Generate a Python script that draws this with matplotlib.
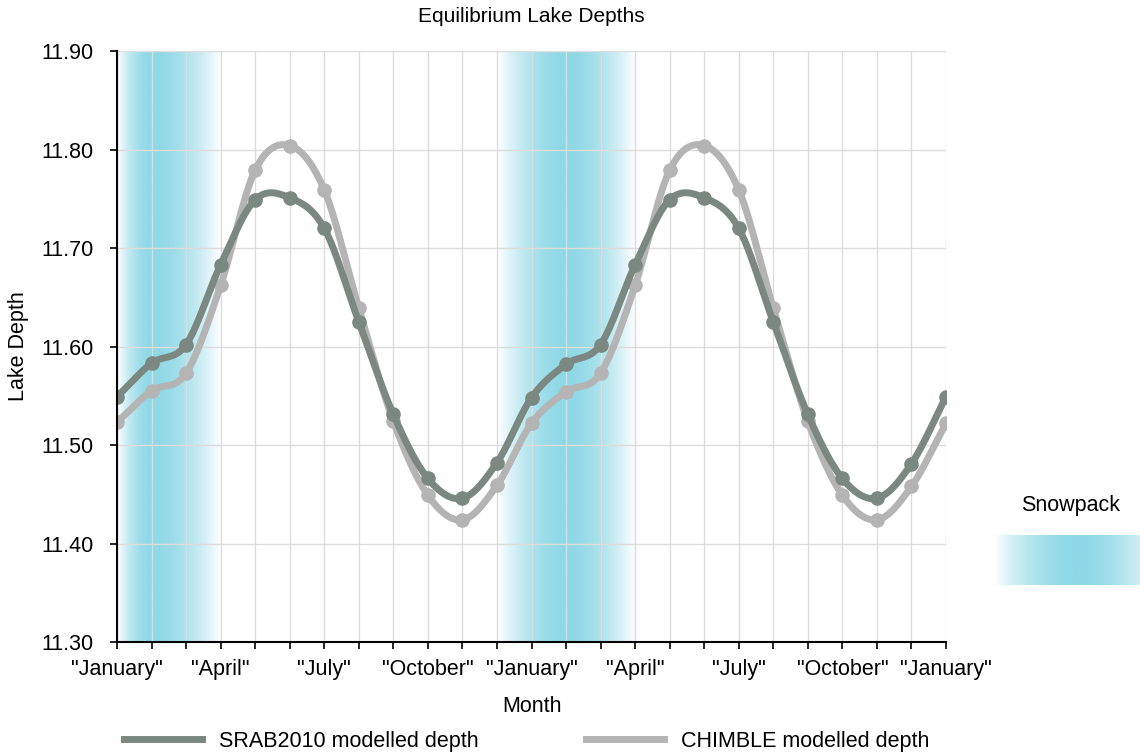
import numpy as np
import matplotlib
matplotlib.use("Agg")
import matplotlib.pyplot as plt
from matplotlib.colors import LinearSegmentedColormap

plt.rcParams['font.family'] = ['Liberation Sans', 'DejaVu Sans']

# monthly values, January to January over two years
months = list(range(25))
tick_labels = ['"January"', '"April"', '"July"', '"October"'] * 2 + ['"January"']
srab = [11.549, 11.583, 11.602, 11.683, 11.749, 11.751, 11.720, 11.625, 11.531,
        11.466, 11.446, 11.482, 11.548, 11.582, 11.602, 11.683, 11.749, 11.751,
        11.720, 11.625, 11.531, 11.466, 11.446, 11.481, 11.549]
chimble = [11.523, 11.555, 11.573, 11.662, 11.779, 11.804, 11.759, 11.639, 11.524,
           11.449, 11.424, 11.459, 11.522, 11.554, 11.573, 11.662, 11.779, 11.804,
           11.759, 11.639, 11.524, 11.449, 11.424, 11.458, 11.522]
# snowpack bands: (start month, peak month, end month)
snow_bands = [(0, 1, 3), (11, 13, 15)]

snow_cmap = LinearSegmentedColormap.from_list("snow", ["#ffffff", "#8fd8e6"])


def catmull_rom(x, y, n=30):
    x = np.asarray(x, float)
    y = np.asarray(y, float)
    xp = np.concatenate([[2 * x[0] - x[1]], x, [2 * x[-1] - x[-2]]])
    yp = np.concatenate([[2 * y[0] - y[1]], y, [2 * y[-1] - y[-2]]])
    xs, ys = [], []
    t = np.linspace(0, 1, n, endpoint=False)
    for i in range(1, len(xp) - 2):
        p0, p1, p2, p3 = yp[i - 1], yp[i], yp[i + 1], yp[i + 2]
        seg = 0.5 * ((2 * p1) + (-p0 + p2) * t + (2 * p0 - 5 * p1 + 4 * p2 - p3) * t ** 2
                     + (-p0 + 3 * p1 - 3 * p2 + p3) * t ** 3)
        xs.extend(xp[i] + (xp[i + 1] - xp[i]) * t)
        ys.extend(seg)
    xs.append(x[-1])
    ys.append(y[-1])
    return np.array(xs), np.array(ys)


def snow_profile(x, a, p, b):
    half = np.where(x < p, p - a, b - p)
    d = np.abs(x - p) / half
    return np.clip(1 - d ** 1.8, 0, 1)


fig = plt.figure(figsize=(11.4, 7.53), dpi=100)
ax = fig.add_axes([117 / 1140, 1 - 642 / 753, (946 - 117) / 1140, (642 - 51) / 753])

# snowpack shading
for a, p, b in snow_bands:
    xx = np.linspace(a, b, 400)
    img = snow_profile(xx, a, p, b)[np.newaxis, :]
    ax.imshow(img, cmap=snow_cmap, vmin=0, vmax=1, aspect='auto',
              extent=(a, b, 11.30, 11.90), zorder=0, interpolation='bilinear')
ax.set_xlim(0, 24)
ax.set_ylim(11.30, 11.90)

sx, sy = catmull_rom(months, srab)
cx, cy = catmull_rom(months, chimble)
ax.plot(cx, cy, color='#b4b4b4', lw=5, solid_capstyle='round', zorder=3)
ax.plot(months, chimble, 'o', color='#b4b4b4', ms=9.5, zorder=3)
ax.plot(sx, sy, color='#7b8882', lw=5, solid_capstyle='round', zorder=4)
ax.plot(months, srab, 'o', color='#7b8882', ms=9.5, zorder=4)

ax.set_xticks(months)
ax.set_xticklabels([tick_labels[i // 3] if i % 3 == 0 else '' for i in months])
ax.set_yticks(np.arange(11.30, 11.901, 0.1))
ax.set_yticklabels([f"{v:.2f}" for v in np.arange(11.30, 11.901, 0.1)])
ax.grid(True, color='#dcdcdc', lw=1, zorder=1)
ax.set_axisbelow(True)
for s in ['top', 'right']:
    ax.spines[s].set_visible(False)
for s in ['left', 'bottom']:
    ax.spines[s].set_linewidth(1.5)
    ax.spines[s].set_zorder(5)
ax.tick_params(axis='both', labelsize=15.5, length=5, width=1.2, direction='out')
ax.tick_params(axis='y', pad=12)
ax.tick_params(axis='x', pad=7)

ax.set_title("Equilibrium Lake Depths", fontsize=15, pad=21)
ax.set_xlabel("Month", fontsize=15.5, labelpad=12)
ax.set_ylabel("Lake Depth", fontsize=15.5, labelpad=9)

# series legend
h1, = ax.plot([], [], color='#7b8882', lw=5)
h2, = ax.plot([], [], color='#b4b4b4', lw=5)
fig.legend([h1, h2], ["SRAB2010 modelled depth", "CHIMBLE modelled depth"],
           loc='center', bbox_to_anchor=(527 / 1140, 1 - 741 / 753), ncol=2,
           frameon=False, fontsize=15.5, handlelength=3.6, handletextpad=0.8,
           columnspacing=5.0)

# snowpack legend
fig.text(1071 / 1140, 1 - 505 / 753, "Snowpack", fontsize=15.5, ha='center', va='center')
lax = fig.add_axes([996 / 1140, 1 - 585 / 753, 144 / 1140, 50 / 753])
lx = np.linspace(0, 1, 400)
lax.imshow(snow_profile(lx * 0.85 + 0.02, 0.0, 0.5, 1.0)[np.newaxis, :], cmap=snow_cmap,
           vmin=0, vmax=1, aspect='auto', interpolation='bilinear')
lax.axis('off')

fig.savefig("out.png", dpi=100)
